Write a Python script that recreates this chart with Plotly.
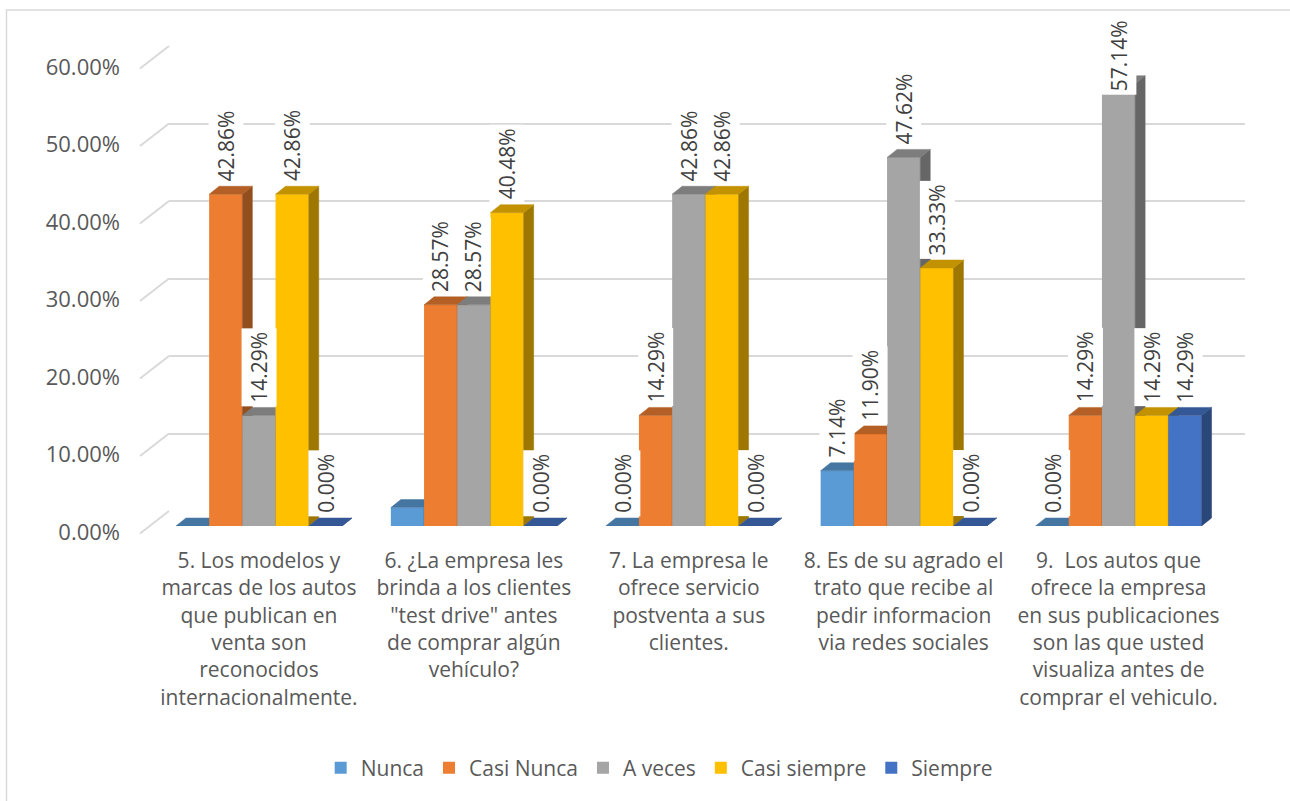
import plotly.graph_objects as go
import numpy as np

# ---------------- data ----------------
categories = [
    "5. Los modelos y<br>marcas de los autos<br>que publican en<br>venta son<br>reconocidos<br>internacionalmente.",
    "6. ¿La empresa les<br>brinda a los clientes<br>\"test drive\" antes<br>de comprar algún<br>vehículo?",
    "7. La empresa le<br>ofrece servicio<br>postventa a sus<br>clientes.",
    "8. Es de su agrado el<br>trato que recibe al<br>pedir informacion<br>via redes sociales",
    "9.  Los autos que<br>ofrece la empresa<br>en sus publicaciones<br>son las que usted<br>visualiza antes de<br>comprar el vehiculo.",
]
series_names = ["Nunca", "Casi Nunca", "A veces", "Casi siempre", "Siempre"]
nunca = [0.00, 2.38, 0.00, 7.14, 0.00]
casi_nunca = [42.86, 28.57, 14.29, 11.90, 14.29]
a_veces = [14.29, 28.57, 42.86, 47.62, 57.14]
casi_siempre = [42.86, 40.48, 42.86, 33.33, 14.29]
siempre = [0.00, 0.00, 0.00, 0.00, 14.29]
series_values = [nunca, casi_nunca, a_veces, casi_siempre, siempre]
# which data labels are visible in the original (per series, per category)
labels_visible = [
    [False, False, True, True, True],
    [True, True, True, True, True],
    [True, True, True, True, True],
    [True, True, True, True, True],
    [True, True, True, True, True],
]
tick_values = [0, 10, 20, 30, 40, 50, 60]
tick_labels = ["0.00%", "10.00%", "20.00%", "30.00%", "40.00%", "50.00%", "60.00%"]
colors = ["#5B9BD5", "#ED7D31", "#A5A5A5", "#FFC000", "#4472C4"]

# ---------------- layout geometry (pixels) ----------------
W, H = 1290, 801
FONT = "'Open Sans', Calibri, Lato, sans-serif"
TXT = "#595959"
GRID = "#D9D9D9"

# front plane (bars)
FX0, FX1 = 151.5, 1226.0
FY0, FY1 = 526.0, 61.6      # y pixel of value 0 and 60
# back wall (gridlines)
BX0, BX1 = 169.0, 1245.0
BY0, BY1 = 511.0, 46.0
YMAX = 60.0


def px_x(p):
    return p / W


def px_y(p):
    return 1 - p / H


n_cat = len(categories)
n_ser = len(series_names)
bargap = 0.2275
bw = (1 - bargap) / n_ser
cat_px = (FX1 - FX0) / n_cat
ddx = 10.0 / cat_px                       # depth offset in x units
ddy = 8.0 / ((FY0 - FY1) / YMAX)          # depth offset in y units


def shade(hexcol, f):
    h = hexcol.lstrip("#")
    r, g, b = (int(h[i:i + 2], 16) for i in (0, 2, 4))
    return "rgb(%d,%d,%d)" % (round(r * f), round(g * f), round(b * f))


fig = go.Figure()

# back wall subplot (x / y): carries gridlines + tick labels
fig.add_trace(go.Scatter(x=[], y=[], xaxis="x", yaxis="y", mode="markers",
                         showlegend=False, hoverinfo="skip"))
layout_axes = dict(
    xaxis=dict(domain=[px_x(BX0), px_x(BX1)], range=[0, 1], visible=False,
               anchor="y", fixedrange=True),
    yaxis=dict(domain=[px_y(BY0), px_y(BY1)], range=[0, YMAX], anchor="x",
               tickvals=tick_values, ticktext=tick_labels,
               showgrid=True, gridcolor=GRID, gridwidth=2,
               zeroline=False, showline=False, ticks="", ticklen=0,
               ticklabelshift=21, ticklabelstandoff=48,
               tickfont=dict(family=FONT, size=22, color=TXT), fixedrange=True),
)

x = np.arange(n_cat, dtype=float)
for k, (name, vals, col) in enumerate(zip(series_names, series_values, colors)):
    ax_n = k + 2
    xa = "x%d" % ax_n
    ya = "y%d" % ax_n
    xc = x + (k - (n_ser - 1) / 2) * bw
    vals = np.asarray(vals, dtype=float)

    # front face
    fig.add_trace(go.Bar(
        x=xc, y=vals, width=bw, name=name, marker=dict(color=col, line=dict(width=0)),
        xaxis=xa, yaxis=ya, hoverinfo="skip", showlegend=True,
    ))
    # top faces + side faces (polygons computed from the data values)
    tx, ty, sx, sy = [], [], [], []
    for xi, v in zip(xc, vals):
        xl, xr = xi - bw / 2, xi + bw / 2
        tx += [xl, xr, xr + ddx, xl + ddx, xl, None]
        ty += [v, v, v + ddy, v + ddy, v, None]
        sx += [xr, xr + ddx, xr + ddx, xr, xr, None]
        sy += [0, ddy, v + ddy, v, 0, None]
    fig.add_trace(go.Scatter(
        x=sx, y=sy, mode="lines", fill="toself", fillcolor=shade(col, 0.62),
        line=dict(width=0.5, color=shade(col, 0.62)), xaxis=xa, yaxis=ya,
        hoverinfo="skip", showlegend=False, cliponaxis=False,
    ))
    fig.add_trace(go.Scatter(
        x=tx, y=ty, mode="lines", fill="toself", fillcolor=shade(col, 0.76),
        line=dict(width=0.5, color=shade(col, 0.76)), xaxis=xa, yaxis=ya,
        hoverinfo="skip", showlegend=False, cliponaxis=False,
    ))

    axis_common = dict(range=[-0.5, n_cat - 0.5], fixedrange=True)
    if k == 0:
        layout_axes["xaxis2"] = dict(
            domain=[px_x(FX0), px_x(FX1)], anchor="y2", **axis_common,
            tickvals=list(range(n_cat)), ticktext=categories,
            showgrid=False, zeroline=False, showline=False, ticks="", ticklen=0,
            ticklabelstandoff=20, tickangle=0,
            tickfont=dict(family=FONT, size=21, color=TXT),
        )
        layout_axes["yaxis2"] = dict(
            domain=[px_y(FY0), px_y(FY1)], anchor="x2", range=[0, YMAX],
            visible=False, fixedrange=True,
        )
    else:
        layout_axes["xaxis%d" % ax_n] = dict(
            overlaying="x2", anchor=ya, visible=False, **axis_common)
        layout_axes["yaxis%d" % ax_n] = dict(
            overlaying="y2", anchor=xa, range=[0, YMAX], visible=False, fixedrange=True)

# data labels
annotations = []
LABEL_CAP = 54.5
for k, vals in enumerate(series_values):
    for i, v in enumerate(vals):
        if not labels_visible[k][i]:
            continue
        xi = i + (k - (n_ser - 1) / 2) * bw
        annotations.append(dict(
            x=xi, y=min(v, LABEL_CAP), xref="x2", yref="y2",
            text="%.2f%%" % v, showarrow=False, textangle=-90,
            xanchor="center", yanchor="bottom", yshift=9,
            bgcolor="white", borderpad=3,
            font=dict(family=FONT, size=21, color="#404040"),
        ))

# side-wall diagonal gridlines (from tick label position to back wall)
shapes = []
for tv in tick_values:
    yb = BY0 + (BY1 - BY0) * tv / YMAX
    shapes.append(dict(type="line", xref="paper", yref="paper",
                       x0=px_x(140), y0=px_y(yb + 22.5), x1=px_x(BX0), y1=px_y(yb),
                       line=dict(color=GRID, width=2), layer="below"))
# chart area border
shapes.append(dict(type="rect", xref="paper", yref="paper",
                   x0=px_x(6.5), y0=-0.05, x1=1.05, y1=px_y(10),
                   line=dict(color=GRID, width=1.5), layer="below"))

fig.update_layout(
    width=W, height=H,
    margin=dict(l=0, r=0, t=0, b=0, autoexpand=False),
    paper_bgcolor="white", plot_bgcolor="rgba(0,0,0,0)",
    barmode="overlay",
    font=dict(family=FONT, color=TXT),
    showlegend=True,
    legend=dict(orientation="h", x=0.511, xanchor="center", y=px_y(768), yanchor="middle",
                font=dict(family=FONT, size=21, color=TXT), itemwidth=30,
                bgcolor="rgba(0,0,0,0)"),
    annotations=annotations,
    shapes=shapes,
    **layout_axes,
)

fig.write_html("out.html")
